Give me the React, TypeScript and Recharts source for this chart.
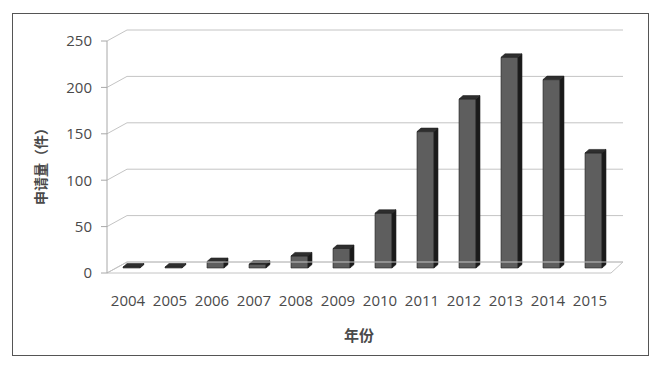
import React from 'react';
import {
  BarChart,
  Bar,
  XAxis,
  YAxis,
  CartesianGrid,
  ReferenceLine,
} from 'recharts';

// application counts per year
const years = ['2004', '2005', '2006', '2007', '2008', '2009', '2010', '2011', '2012', '2013', '2014', '2015'];
const counts = [1, 1, 7, 4, 13, 21, 59, 147, 182, 227, 203, 124];
const yTicks = [0, 50, 100, 150, 200, 250];

const data = years.map((year, i) => ({ year, count: counts[i] }));

// 3D wall / floor depth
const WALL_DX = 20;
const WALL_DY = 11;
const WALL_RIGHT_DX = 12;
// bar depth and offset into the floor
const BAR_DX = 4;
const BAR_DY = 3.5;
const BAR_OX = 3;
const BAR_OY = -5;

const gridColor = '#c4c4c4';
const textColor = '#4a4a4a';

function GridLine(props: any) {
  const { x1, y1, x2 } = props;
  return (
    <path
      d={`M${x1},${y1} L${x1 + WALL_DX},${y1 - WALL_DY} L${x2 + WALL_RIGHT_DX},${y1 - WALL_DY}`}
      fill="none"
      stroke={gridColor}
      strokeWidth={1}
    />
  );
}

function Floor(props: any) {
  const { x1, y1, x2 } = props;
  return (
    <path
      d={`M${x1},${y1} L${x2},${y1} L${x2 + WALL_RIGHT_DX},${y1 - WALL_DY} L${x1 + WALL_DX},${y1 - WALL_DY} Z`}
      fill="none"
      stroke={gridColor}
      strokeWidth={1}
    />
  );
}

function Bar3D(props: any) {
  const { x, y, width, height } = props;
  const h = Math.max(height || 0, 0);
  const X = x + BAR_OX;
  const Y = y + BAR_OY;
  const w = width;
  return (
    <g stroke="#222" strokeWidth={0.6} strokeLinejoin="round">
      <rect x={X} y={Y} width={w} height={h} fill="#5e5e5e" />
      <path
        d={`M${X},${Y} L${X + BAR_DX},${Y - BAR_DY} L${X + w + BAR_DX},${Y - BAR_DY} L${X + w},${Y} Z`}
        fill="#2e2e2e"
      />
      <path
        d={`M${X + w},${Y} L${X + w + BAR_DX},${Y - BAR_DY} L${X + w + BAR_DX},${Y + h - BAR_DY} L${X + w},${Y + h} Z`}
        fill="#1a1a1a"
      />
    </g>
  );
}

export default function App() {
  return (
    <div
      style={{
        position: 'absolute',
        left: 0,
        top: 0,
        width: 661,
        height: 368,
        background: '#fff',
        fontFamily: '"Open Sans", "Noto Sans CJK SC", sans-serif',
      }}
    >
      <div
        style={{
          position: 'absolute',
          left: 12,
          top: 13,
          width: 635,
          height: 341,
          border: '1.5px solid #555',
        }}
      />
      <BarChart
        width={661}
        height={368}
        data={data}
        margin={{ top: 41, right: 50, bottom: 25, left: 12 }}
        style={{ position: 'absolute', left: 0, top: 0 }}
      >
        <CartesianGrid vertical={false} horizontal={GridLine} />
        <ReferenceLine y={0} shape={Floor} />
        <XAxis
          dataKey="year"
          height={70}
          axisLine={false}
          tickLine={false}
          tickSize={0}
          tickMargin={22}
          interval={0}
          tick={{ fill: textColor, fontSize: 15, fontFamily: '"Open Sans", sans-serif' }}
          label={{
            value: '年份',
            position: 'insideBottom',
            offset: 2,
            fill: textColor,
            fontSize: 15,
            fontWeight: 'bold',
            fontFamily: '"Noto Sans CJK SC", sans-serif',
          }}
        />
        <YAxis
          width={95}
          domain={[0, 250]}
          ticks={yTicks}
          interval={0}
          axisLine={{ stroke: '#a8a8a8' }}
          tickLine={{ stroke: '#a8a8a8' }}
          tickSize={6}
          tickMargin={9}
          tick={{ fill: textColor, fontSize: 15, fontFamily: '"Open Sans", sans-serif' }}
          label={{
            value: '申请量（件）',
            angle: -90,
            position: 'insideLeft',
            offset: 29,
            dy: 6,
            fill: textColor,
            fontSize: 14,
            fontWeight: 'bold',
            fontFamily: '"Noto Sans CJK SC", sans-serif',
            style: { textAnchor: 'middle' },
          }}
        />
        <Bar dataKey="count" barSize={17} shape={Bar3D} isAnimationActive={false} />
      </BarChart>
    </div>
  );
}
